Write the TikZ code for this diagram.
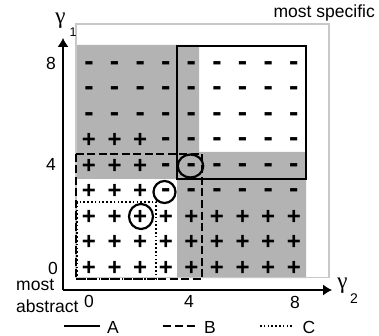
\documentclass[tikz,border=0pt]{standalone}
\usepackage{fontspec}
\setmainfont{Liberation Sans}
\newfontfamily\gamfont{Liberation Serif}
\usetikzlibrary{arrows.meta,shapes.geometric}
\definecolor{cellgray}{RGB}{179,179,179}
\definecolor{framegray}{RGB}{200,200,200}
\def\mysymm{m}
\tikzset{
  lbl/.style={inner sep=0pt, font=\fontsize{17.5}{20}\selectfont},
  sym-p/.style={inner sep=0pt, anchor=base, yshift=-8.2pt, font=\fontsize{24}{26}\selectfont\bfseries},
  sym-m/.style={inner sep=0pt, anchor=base, yshift=-7.4pt, font=\fontsize{28}{30}\selectfont\bfseries},
  ring/.style={draw, line width=2.2pt, ellipse, inner sep=0pt},
  boxA/.style={draw, line width=2.2pt},
  boxB/.style={draw, line width=2.2pt, dash pattern=on 8pt off 3.5pt},
  boxC/.style={draw, line width=2pt, dash pattern=on 1.6pt off 2.2pt},
  axis/.style={draw, line width=1.1pt, -{Latex[length=9pt,width=11pt]}},
}
\begin{document}
\begin{tikzpicture}[x=1pt,y=-1pt]
\useasboundingbox (0,0) rectangle (379,336);
% shaded cells
\fill[cellgray] (76,45) -- (199,45) -- (199,152) -- (306,152) -- (306,278)
  -- (177,278) -- (177,179) -- (76,179) -- cycle;
% light frame
\draw[framegray, line width=1.5pt] (76,24) rectangle (329,277.5);
% grid of signs
\foreach \r/\row in {8/{m,m,m,m,m,m,m,m,m},7/{m,m,m,m,m,m,m,m,m},6/{m,m,m,m,m,m,m,m,m},
  5/{p,p,p,m,m,m,m,m,m},4/{p,p,p,m,m,m,m,m,m},3/{p,p,p,m,m,m,m,m,m},
  2/{p,p,p,p,p,p,p,p,p},1/{p,p,p,p,p,p,p,p,p},0/{p,p,p,p,p,p,p,p,p}}{
  \foreach \s [count=\c from 0] in \row {
    \ifx\s\mysymm
      \node[sym-m] (s\r-\c) at ({89+25.6*\c},{267-25.5*\r}) {-};
    \else
      \node[sym-p] (s\r-\c) at ({89+25.6*\c},{267-25.5*\r}) {+};
    \fi
  }
}
% hypotheses
\draw[boxA] (177,46) rectangle (306,179);
\draw[boxB] (76,154) rectangle (202,279);
\draw[boxC] (77,202) rectangle (156,279);
% circled examples
\node[ring, minimum width=25.5pt, minimum height=23pt] (e1) at (190.5,166) {};
\node[ring, minimum width=22pt, minimum height=22pt] (e2) at (164.5,192) {};
\node[ring, minimum width=24pt, minimum height=25pt] (e3) at (141,216.5) {};
% axes
\coordinate (O) at (63,290);
\coordinate (ytip) at (63,38);
\coordinate (xtip) at (332,290);
\draw[axis] (O) -- (ytip);
\draw[axis] (O) -- (xtip);
\node[inner sep=0pt, font=\gamfont\fontsize{23}{24}\selectfont] (g1) at (60.5,20.5) {γ};
\node[inner sep=0pt, font=\fontsize{12.5}{14}\selectfont] (g1s) at (73,32.5) {1};
\node[inner sep=0pt, font=\gamfont\fontsize{23}{24}\selectfont] (g2) at (342.5,286) {γ};
\node[inner sep=0pt, font=\fontsize{14}{16}\selectfont] (g2s) at (354,298.5) {2};
% tick labels
\node[lbl] (y8) at (51,63) {8};
\node[lbl] (y4) at (51,164) {4};
\node[lbl] (y0) at (53,268) {0};
\node[lbl] (x0) at (89,301.5) {0};
\node[lbl] (x4) at (189,301.5) {4};
\node[lbl] (x8) at (295,302) {8};
% corner texts
\node[lbl, anchor=base east] (spec) at (375,17.5) {most specific};
\node[lbl, anchor=base west] (most) at (16,290) {most};
\node[lbl, anchor=base west] (abs) at (16,312.5) {abstract};
% legend
\coordinate (la1) at (64,326); \coordinate (la2) at (100,326);
\coordinate (lb1) at (163,326); \coordinate (lb2) at (197,326);
\coordinate (lc1) at (260,326); \coordinate (lc2) at (293,326);
\draw[line width=2.2pt] (la1) -- (la2);
\draw[line width=2.2pt, dash pattern=on 8pt off 4pt] (lb1) -- (lb2);
\draw[line width=2pt, dash pattern=on 1.6pt off 2.2pt] (lc1) -- (lc2);
\node[lbl] (lA) at (113,327) {A};
\node[lbl] (lB) at (210,327) {B};
\node[lbl] (lC) at (309,327) {C};
\end{tikzpicture}
\end{document}
